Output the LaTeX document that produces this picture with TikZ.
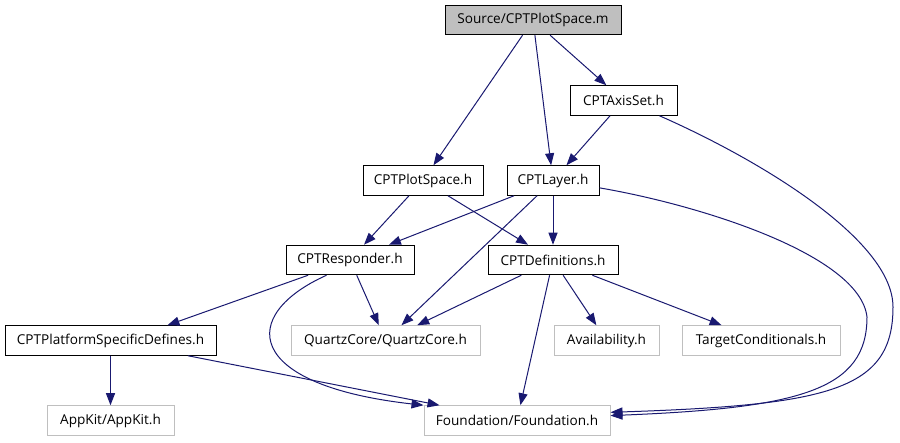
\documentclass[tikz,border=0pt]{standalone}
\usepackage{fontspec}
\setmainfont{Open Sans}
\usetikzlibrary{arrows.meta}
\definecolor{edgec}{HTML}{191970}
\definecolor{greyb}{HTML}{BFBFBF}
\begin{document}
\begin{tikzpicture}[x=1pt,y=-1pt,
  box/.style={draw=black,line width=1pt,rectangle,inner sep=0pt,minimum height=29.5pt,font=\fontsize{13.6}{15}\selectfont},
  ext/.style={box,draw=greyb},
  src/.style={box,fill=greyb},
  edge/.style={draw=edgec,line width=1pt,-{Triangle[length=12pt,width=9pt]}}]
\useasboundingbox (0,0) rectangle (900,443);
\node[src,minimum width=176pt] (src) at (533,20) {Source/CPTPlotSpace.m};
\node[box,minimum width=107pt] (axis) at (623.5,100.5) {CPTAxisSet.h};
\node[box,minimum width=120pt] (ps) at (423,180.5) {CPTPlotSpace.h};
\node[box,minimum width=92pt] (layer) at (553,180.5) {CPTLayer.h};
\node[box,minimum width=128pt] (resp) at (350,260) {CPTResponder.h};
\node[box,minimum width=130pt] (defs) at (553,260) {CPTDefinitions.h};
\node[box,minimum width=211pt] (plat) at (110.5,340.5) {CPTPlatformSpecificDefines.h};
\node[ext,minimum width=189pt] (qc) at (385.5,340.5) {QuartzCore/QuartzCore.h};
\node[ext,minimum width=105pt] (avail) at (606.5,340.5) {Availability.h};
\node[ext,minimum width=158pt] (tc) at (761,340.5) {TargetConditionals.h};
\node[ext,minimum width=127pt] (ak) at (110.5,420.5) {AppKit/AppKit.h};
\node[ext,minimum width=186pt] (fd) at (517,420.5) {Foundation/Foundation.h};

\draw[edge] (src) -- (ps);
\draw[edge] (src) -- (layer);
\draw[edge] (src) -- (axis);
\draw[edge] (axis) -- (layer);
\draw[edge] (ps) -- (resp);
\draw[edge] (ps) -- (defs);
\draw[edge] (layer) -- (resp);
\draw[edge] (layer) -- (defs);
\draw[edge] (layer) -- (qc);
\draw[edge] (resp.200) -- (plat.15);
\draw[edge] (resp) -- (qc);
\draw[edge] (defs) -- (qc);
\draw[edge] (defs) -- (fd);
\draw[edge] (defs) -- (avail);
\draw[edge] (defs) -- (tc);
\draw[edge] (plat) -- (ak);
\draw[edge] (plat) -- (fd);
\draw[edge] (resp.213) .. controls (238,315) and (243,385) .. (fd.north west);
\draw[edge] (layer.-9) .. controls (700,205) and (860,255) .. (867,317) .. controls (867,390) and (800,408) .. (fd.3);
\draw[edge] (axis.-23) .. controls (760,160) and (893,240) .. (893,307) .. controls (893,390) and (830,405) .. (fd.5);
\end{tikzpicture}
\end{document}
